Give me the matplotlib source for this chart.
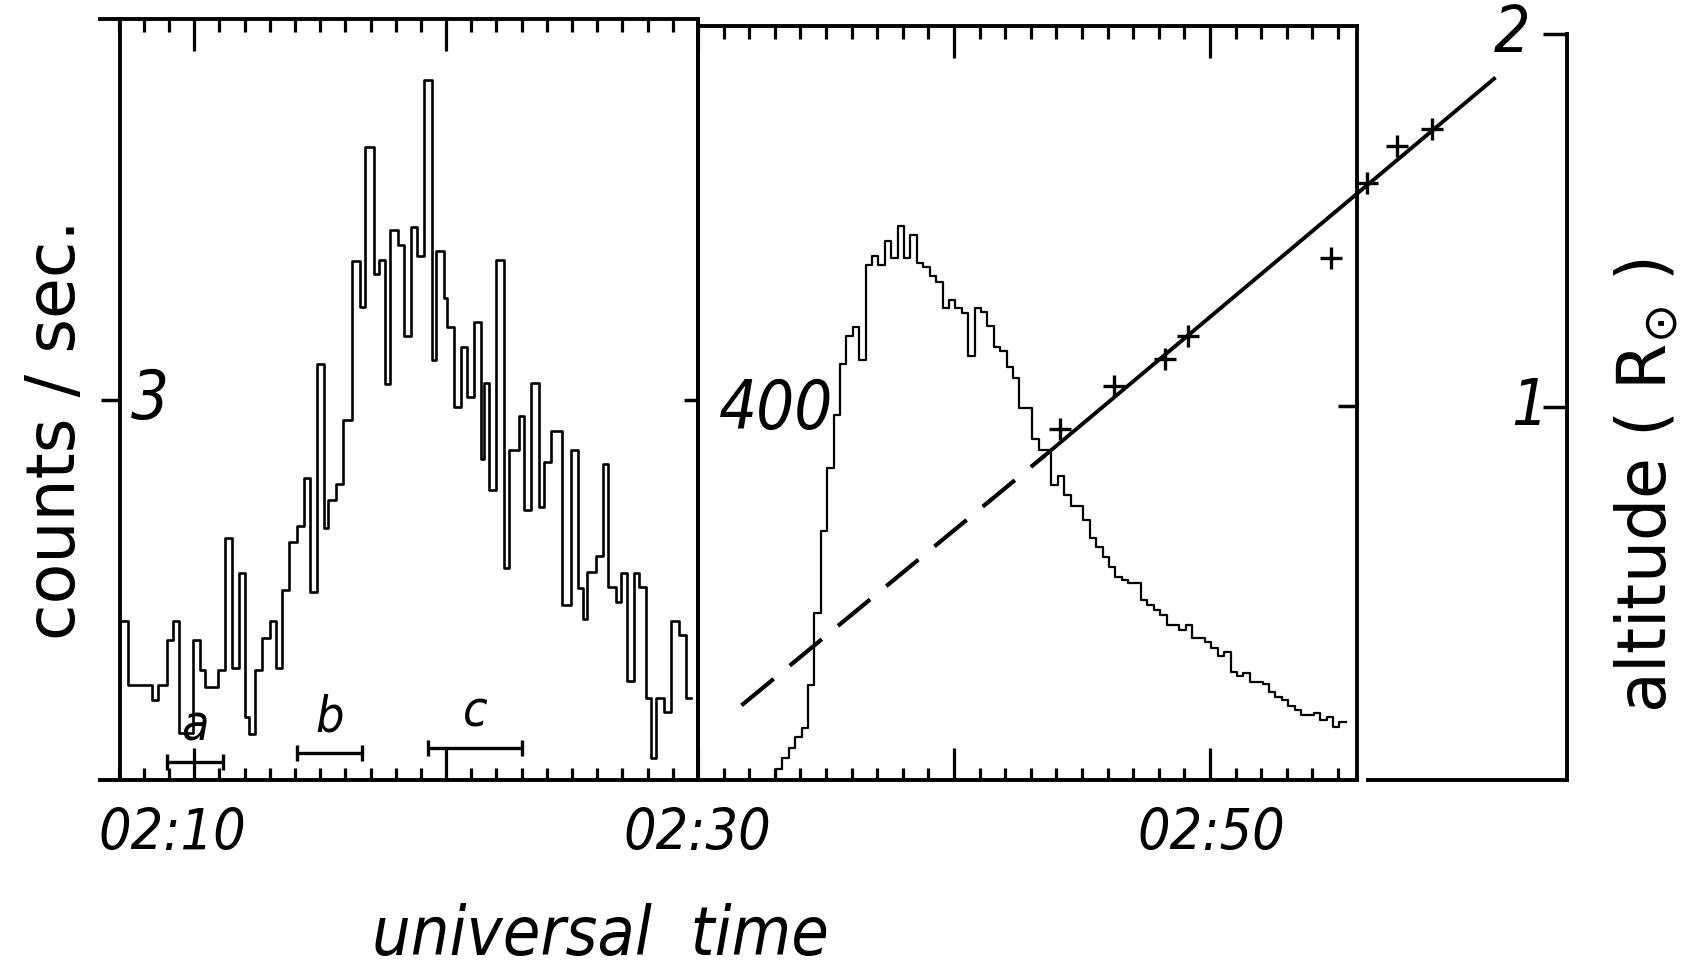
import os
import numpy as np
import matplotlib
matplotlib.use('Agg')
import matplotlib.pyplot as plt
import matplotlib.lines as mlines
from matplotlib import font_manager as fm
from matplotlib.ticker import FixedLocator

plt.rcParams['font.family'] = ['DejaVu Sans']
plt.rcParams['font.style'] = 'italic'
plt.rcParams['mathtext.fontset'] = 'dejavusans'

# pick a narrow italic face if one is installed, the lettering is tall and narrow
narrow_file = None
for want in ['LiberationSansNarrow-Italic', 'DejaVuSansCondensed-Oblique']:
    for p in fm.findSystemFonts() + [f.fname for f in fm.fontManager.ttflist]:
        if os.path.basename(p).startswith(want):
            narrow_file = p
            break
    if narrow_file:
        break


def lab_font(size_narrow, size_plain):
    if narrow_file:
        return fm.FontProperties(fname=narrow_file, size=size_narrow)
    return fm.FontProperties(family='DejaVu Sans', style='italic', size=size_plain)


# left panel: minutes after 02:00 where each level starts, counts/sec
left_t = [7.06, 7.36, 8.32, 8.57, 8.91, 9.14, 9.40, 9.96, 10.24,
          10.44, 10.94, 11.23, 11.52, 11.76, 12.00, 12.16, 12.43, 12.69, 13.02,
          13.25, 13.49, 13.78, 14.08, 14.35, 14.61, 14.89, 15.17, 15.33, 15.61,
          15.92, 16.27, 16.60, 16.80, 17.13, 17.33, 17.59, 17.79, 18.08, 18.32,
          18.59, 18.85, 19.12, 19.45, 19.58, 19.91, 20.05, 20.31, 20.58, 20.84,
          21.11, 21.37, 21.49, 21.69, 21.97, 22.29, 22.50, 22.89, 23.09, 23.36,
          23.69, 23.89, 24.16, 24.62, 24.95, 25.22, 25.42, 25.61, 25.94, 26.21,
          26.41, 26.74, 26.94, 27.20, 27.47, 27.67, 27.93, 28.13, 28.33, 28.66,
          28.93, 29.26, 29.52]
left_c = [1.25, 0.75, 0.63, 0.75, 1.10, 1.25, 0.37, 1.10, 0.87,
          0.73, 0.87, 1.91, 0.88, 1.63, 0.50, 0.36, 0.87, 1.12, 1.25,
          0.88, 1.50, 1.88, 2.00, 2.38, 1.48, 3.28, 1.99, 2.21, 2.33,
          2.84, 4.09, 3.73, 4.99, 3.99, 4.10, 3.12, 4.34, 4.22, 3.50,
          4.36, 4.13, 5.52, 3.31, 4.17, 3.80, 3.57, 2.94, 3.41, 3.02,
          3.61, 2.53, 3.13, 2.29, 4.10, 1.67, 2.60, 2.87, 2.13, 3.13,
          2.15, 2.51, 2.75, 1.38, 2.60, 1.51, 1.27, 1.64, 1.77, 2.49,
          1.52, 1.40, 1.63, 0.78, 1.63, 1.52, 0.65, 0.17, 0.65, 0.54,
          1.25, 1.14, 0.65]
left_end = 29.72

# right panel: 15 s bins starting 02:33.05
right_start = 33.05
right_bin = 0.25
right_c = [12, 24, 34, 46, 56, 102, 178, 266, 334, 390,
           445, 475, 484, 449, 551, 560, 551, 576, 558, 592,
           558, 583, 553, 548, 539, 532, 505, 513, 505, 499,
           453, 505, 500, 485, 463, 459, 441, 430,
           398, 398, 364, 353, 353, 315, 325, 305, 293, 293,
           278, 259, 249, 238, 228, 217, 214, 211, 211, 192,
           187, 182, 176, 166, 166, 160, 166, 152, 152, 147,
           141, 133, 137, 115, 111, 114, 105, 105, 103, 94,
           89, 86, 79, 75, 70, 70, 72, 64, 67, 57, 62]

# altitude fit line (dashed then solid) and measured points
fit_t = [31.7, 43.55, 61.1]
fit_h = [0.20, 0.87, 1.88]
cross_t = [44.14, 46.25, 48.24, 49.14, 54.73, 56.13, 57.3, 58.67]
cross_h = [0.94, 1.055, 1.128, 1.19, 1.40, 1.60, 1.70, 1.745]

# intervals a, b, c
int_names = ['a', 'b', 'c']
int_lo = [8.91, 14.07, 19.30]
int_hi = [11.13, 16.68, 23.00]
int_y = [0.14, 0.21, 0.25]

time_pos = [9.15, 29.98, 50.05]
time_lab = ['02:10', '02:30', '02:50']

W, H = 1688, 971
fig = plt.figure(figsize=(W / 100, H / 100), dpi=100)


def rect(x0, x1, ytop, ybot):
    return [x0 / W, 1 - ybot / H, (x1 - x0) / W, (ybot - ytop) / H]


ax1 = fig.add_axes(rect(100, 698, 19, 780))
ax2 = fig.add_axes(rect(698, 1357, 26, 780))
ax3 = fig.add_axes(rect(698, 1567, 34, 780))
for ax in (ax1, ax2, ax3):
    ax.patch.set_visible(False)
    for s in ax.spines.values():
        s.set_linewidth(2.8)

ax1.set_xlim(6.26, 30.0)
ax1.set_ylim(0, 6.0)
ax1.spines['left'].set_position(('data', 7.06))
ax2.set_xlim(30.0, 55.74)
ax2.set_ylim(0, 806)
ax3.set_xlim(30.0, 63.95)
ax3.set_ylim(0, 2.0)

# histograms
ax1.step(left_t + [left_end], left_c + [left_c[-1]], where='post', color='k', lw=1.9)
edges = right_start + right_bin * np.arange(len(right_c) + 1)
rt = np.concatenate([[30.0], edges])
rc = np.concatenate([[0], right_c, [right_c[-1]]])
ax2.step(rt, rc, where='post', color='k', lw=1.6)

# interval bars
ax1.hlines(int_y, int_lo, int_hi, color='k', lw=2.4)
ax1.plot(int_lo + int_hi, int_y + int_y, '|', color='k', ms=12, mew=2.4)
for name, lo, hi, y in zip(int_names, int_lo, int_hi, int_y):
    ax1.text((lo + hi) / 2, y + 0.09, name, ha='center', va='bottom',
             fontproperties=lab_font(36, 30))

# altitude
ax3.plot(fit_t[:2], fit_h[:2], color='k', lw=3.0, dashes=(10, 5))
ax3.plot(fit_t[1:], fit_h[1:], color='k', lw=2.8)
ax3.plot(cross_t, cross_h, '+', color='k', ms=16, mew=2.4)

# ticks
for ax, lo, hi, majors in [(ax1, 7, 30, [10, 20, 30]), (ax2, 31, 55, [40, 50])]:
    ax.xaxis.set_major_locator(FixedLocator(majors))
    ax.xaxis.set_minor_locator(FixedLocator([m for m in range(lo, hi + 1) if m not in majors]))
    ax.tick_params(axis='x', which='both', top=True, bottom=True, direction='in',
                   width=2.3, labelbottom=False)
    ax.tick_params(axis='x', which='major', length=23)
    ax.tick_params(axis='x', which='minor', length=9)

ax1.set_yticks([3])
ax1.tick_params(axis='y', left=True, right=True, direction='out', length=14,
                width=2.5, labelleft=False)
for t in ax1.yaxis.get_major_ticks():
    t.tick2line.set_marker(mlines.TICKLEFT)
    t.tick2line.set_markersize(10)
ax2.set_yticks([400])
ax2.tick_params(axis='y', left=False, right=True, direction='in', length=14,
                width=2.5, labelleft=False)

ax3.set_xticks([])
ax3.set_yticks([1, 2])
ax3.tick_params(axis='y', left=False, right=True, direction='in', length=17,
                width=2.5, labelleft=False, labelright=False)
ax3.spines['left'].set_visible(False)
ax3.spines['top'].set_visible(False)
ax3.spines['bottom'].set_bounds(56.17, 63.95)

# value labels
ax1.text(7.5, 3, '3', ha='left', va='center', fontproperties=lab_font(48, 44))
ax2.text(30.82, 395, '400', ha='left', va='center', fontproperties=lab_font(48, 41))
ax3.text(61.8, 2.0, '2', ha='center', va='center', fontproperties=lab_font(46, 42))
ax3.text(62.5, 1.0, '1', ha='center', va='center', fontproperties=lab_font(46, 42))

# time labels
for ax, x, s in zip([ax1, ax1, ax2], time_pos, time_lab):
    ax.text(x, -0.072, s, transform=ax.get_xaxis_transform(),
            ha='center', va='center', fontproperties=lab_font(41, 34))

fig.text(600 / W, 2 / H, 'universal  time', ha='center', va='bottom',
         fontproperties=lab_font(49, 44))
fig.text(56 / W, 1 - 430 / H, 'counts / sec.', rotation=90, ha='center', va='center',
         fontsize=48, style='normal')
fig.text(1647 / W, 1 - 485 / H, r'altitude ( R$_{\odot}$ )', rotation=90, ha='center',
         va='center', fontsize=48, style='normal')

fig.savefig('out.png', dpi=100)
